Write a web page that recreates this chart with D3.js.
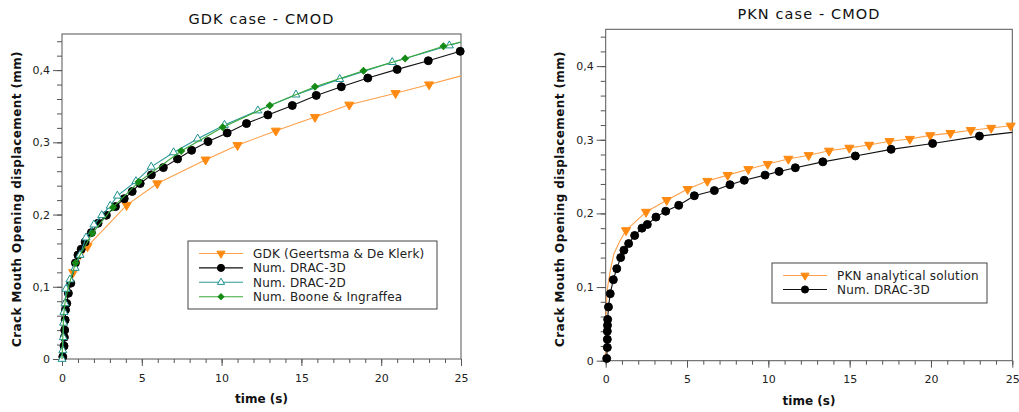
<!DOCTYPE html>
<html lang="en">
<head>
<meta charset="UTF-8">
<title>CMOD comparison</title>
<style>
  body { margin: 0; padding: 0; background: #fff; }
  svg { display: block; font-family: "DejaVu Sans", Verdana, sans-serif; }
</style>
<script src="https://d3js.org/d3.v7.min.js"></script>
</head>
<body>
<svg id="chart" width="1019" height="412"></svg>
<script>
// --- data: [time (s), CMOD (mm)] ---
// GDK case
const gdkMarks = [[0.7,0.12],[1.6,0.156],[4.05,0.213],[5.97,0.243],[9.0,0.276],[11.0,0.296],[13.4,0.316],
  [15.85,0.335],[18.0,0.352],[20.9,0.368],[23.0,0.380]];
const gdkTail = [[25,0.392]];

const drac3dGdkMarks = [[0.05,0.003],[0.13,0.018],[0.15,0.03],[0.17,0.04],[0.2,0.054],[0.22,0.068],[0.3,0.077],
  [0.4,0.091],[0.55,0.105],[0.84,0.133],[1.0,0.144],[1.2,0.152],[1.45,0.162],[1.84,0.175],[2.26,0.188],
  [2.78,0.199],[3.35,0.211],[3.9,0.222],[4.4,0.232],[4.9,0.243],[5.6,0.255],[6.35,0.265],[7.24,0.277],
  [8.12,0.289],[9.15,0.301],[10.35,0.313],[11.56,0.326],[12.9,0.338],[14.43,0.351],[15.93,0.365],
  [17.5,0.377],[19.16,0.389],[21.0,0.401],[22.95,0.413],[24.95,0.426]];

const drac2dMarks = [[0,0],[0.05,0.012],[0.08,0.03],[0.1,0.05],[0.12,0.065],[0.19,0.077],[0.25,0.097],
  [0.5,0.11],[0.82,0.126],[1.13,0.144],[1.51,0.168],[2.0,0.186],[2.49,0.199],[3.02,0.212],[3.47,0.226],
  [4.63,0.246],[5.59,0.266],[6.99,0.286],[8.5,0.305],[10.18,0.324],[12.27,0.344],[14.66,0.366],
  [17.4,0.3875],[20.69,0.411],[24.27,0.434]];
const drac2dTail = [[25,0.439]];

const booneHead = [[0,0],[0.05,0.03],[0.1,0.06],[0.2,0.08],[0.4,0.1]];
const booneMarks = [[0.85,0.133],[1.9,0.174],[3.2,0.21],[4.79,0.245],[7.47,0.288],[10.07,0.321],
  [13.02,0.351],[15.85,0.377],[18.89,0.399],[21.5,0.416],[23.9,0.433]];
const booneTail = [[25,0.439]];

// PKN case
const pknHead = [[0,0],[0.01,0.05],[0.05,0.08],[0.12,0.1],[0.26,0.12],[0.5,0.145],[0.88,0.163]];
const pknMarks = [[1.25,0.177],[2.48,0.202],[3.75,0.218],[5.04,0.233],[6.25,0.244],[7.5,0.252],[8.77,0.26],
  [9.96,0.267],[11.23,0.274],[12.48,0.279],[13.73,0.285],[14.98,0.289],[16.2,0.293],[17.45,0.298],
  [18.7,0.301],[19.95,0.306],[21.2,0.309],[22.45,0.313],[23.7,0.316],[24.9,0.319]];

const drac3dPknMarks = [[0.06,0.003],[0.1,0.018],[0.1,0.029],[0.1,0.04],[0.11,0.048],[0.12,0.056],[0.17,0.073],
  [0.28,0.091],[0.47,0.11],[0.68,0.125],[0.92,0.14],[1.12,0.15],[1.41,0.159],[1.78,0.17],[2.23,0.18],
  [2.56,0.185],[3.09,0.195],[3.69,0.203],[4.49,0.211],[5.45,0.224],[6.68,0.231],[7.64,0.239],[8.52,0.245],
  [9.8,0.252],[10.66,0.257],[11.66,0.262],[13.35,0.27],[15.35,0.278],[17.55,0.287],[20.1,0.295],[22.98,0.305]];
const drac3dPknTail = [[25,0.310]];

const xMajor = [0, 5, 10, 15, 20, 25];
const xMinor = d3.range(0, 26, 1);
const yMajor = [0, 0.1, 0.2, 0.3, 0.4];
const yMinor = d3.range(0, 0.45, 0.02);

const yTitle = "Crack Mouth Opening displacement (mm)";
const xTitle = "time (s)";

// decimal comma like the original
const fr = d3.formatLocale({decimal: ",", thousands: ".", grouping: [3], currency: ["", ""]});
const yFmt = fr.format(".1~f");

const styles = {
  gdk:   {stroke: "#ffa04a", fill: "#ff8a12", edge: "#ff8a12", symbol: d3.symbolTriangle, size: 36, rot: 180},
  drac3: {stroke: "#111", fill: "#000", edge: "#000", symbol: d3.symbolCircle, size: 50, rot: 0},
  drac2: {stroke: "#2a9a9a", fill: "#fff", edge: "#1f9090", symbol: d3.symbolTriangle, size: 28, rot: 0},
  boone: {stroke: "#3aa83a", fill: "#168a16", edge: "#168a16", symbol: d3.symbolSquare, size: 22, rot: 45}
};

const svg = d3.select("#chart");

function drawPanel(p) {
  const x = d3.scaleLinear().domain([0, 25]).range(p.xr);
  const y = d3.scaleLinear().domain([0, 0.45]).range(p.yr);
  const g = svg.append("g");

  // ticks
  const minorX = g.append("g").attr("transform", `translate(0,${p.yr[0]})`)
    .call(d3.axisBottom(x).tickValues(xMinor).tickSize(4).tickFormat(""));
  const majorX = g.append("g").attr("transform", `translate(0,${p.yr[0]})`)
    .call(d3.axisBottom(x).tickValues(xMajor).tickSize(7).tickPadding(8).tickFormat(d3.format("d")));
  const minorY = g.append("g").attr("transform", `translate(${p.xr[0]},0)`)
    .call(d3.axisLeft(y).tickValues(yMinor).tickSize(5).tickFormat(""));
  const majorY = g.append("g").attr("transform", `translate(${p.xr[0]},0)`)
    .call(d3.axisLeft(y).tickValues(yMajor).tickSize(9).tickPadding(3).tickFormat(yFmt));
  [minorX, majorX, minorY, majorY].forEach(a => {
    a.select(".domain").remove();
    a.selectAll("line").attr("stroke", "#555");
    a.selectAll("text").attr("font-size", 11).attr("fill", "#222")
      .attr("font-family", "DejaVu Sans, sans-serif");
  });

  // frame
  g.append("rect")
    .attr("x", p.xr[0]).attr("y", p.yr[1])
    .attr("width", p.xr[1] - p.xr[0]).attr("height", p.yr[0] - p.yr[1])
    .attr("fill", "none").attr("stroke", "#555").attr("stroke-width", 1);

  const line = d3.line().x(d => x(d[0])).y(d => y(d[1]));

  p.series.forEach(s => {
    const st = styles[s.style];
    const pts = (s.head || []).concat(s.marks, s.tail || []);
    g.append("path").datum(pts)
      .attr("d", line).attr("fill", "none")
      .attr("stroke", st.stroke).attr("stroke-width", 1.1);
    g.append("g").selectAll("path").data(s.marks).join("path")
      .attr("d", d3.symbol(st.symbol, st.size))
      .attr("transform", d => `translate(${x(d[0])},${y(d[1])}) rotate(${st.rot})`)
      .attr("fill", st.fill).attr("stroke", st.edge).attr("stroke-width", 1);
  });

  // titles
  const cx = (p.xr[0] + p.xr[1]) / 2;
  svg.append("text").attr("x", cx).attr("y", p.titleY)
    .attr("text-anchor", "middle").attr("font-size", 14.5).attr("letter-spacing", 1.1).attr("fill", "#111")
    .text(p.title);
  svg.append("text").attr("x", cx).attr("y", p.xLabelY)
    .attr("text-anchor", "middle").attr("font-size", 12).attr("font-weight", "bold").attr("fill", "#111")
    .text(xTitle);
  svg.append("text")
    .attr("transform", `translate(${p.yLabelX},199) rotate(-90)`)
    .attr("text-anchor", "middle").attr("font-size", 12).attr("font-weight", "bold")
    .attr("letter-spacing", 0.4).attr("fill", "#111")
    .text(yTitle);

  // legend
  const lg = svg.append("g");
  lg.append("rect").attr("x", p.legend.x).attr("y", p.legend.y)
    .attr("width", p.legend.w).attr("height", p.legend.h)
    .attr("fill", "#fff").attr("stroke", "#444").attr("stroke-width", 1);
  p.series.forEach((s, i) => {
    const st = styles[s.style];
    const ry = p.legend.row0 + i * p.legend.dy;
    const lx = p.legend.x + 11;
    lg.append("line").attr("x1", lx).attr("x2", lx + 44).attr("y1", ry).attr("y2", ry)
      .attr("stroke", st.stroke).attr("stroke-width", 1.1);
    lg.append("path").attr("d", d3.symbol(st.symbol, st.size * 0.8))
      .attr("transform", `translate(${lx + 22},${ry}) rotate(${st.rot})`)
      .attr("fill", st.fill).attr("stroke", st.edge);
    lg.append("text").attr("x", lx + 54).attr("y", ry + 4.5)
      .attr("font-size", 12).attr("letter-spacing", 0.2).attr("fill", "#222").text(s.name);
  });
}

drawPanel({
  xr: [62, 461], yr: [359, 34], title: "GDK case - CMOD", titleY: 24, xLabelY: 403, yLabelX: 21,
  legend: {x: 188, y: 241, w: 249, h: 68, row0: 253.5, dy: 14.4},
  series: [
    {name: "GDK (Geertsma & De Klerk)", style: "gdk", marks: gdkMarks, tail: gdkTail},
    {name: "Num. DRAC-3D", style: "drac3", marks: drac3dGdkMarks},
    {name: "Num. DRAC-2D", style: "drac2", marks: drac2dMarks, tail: drac2dTail},
    {name: "Num. Boone & Ingraffea", style: "boone", head: booneHead, marks: booneMarks, tail: booneTail}
  ]
});

drawPanel({
  xr: [605.7, 1012.3], yr: [360.7, 29.3], title: "PKN case - CMOD", titleY: 19, xLabelY: 405, yLabelX: 564,
  legend: {x: 772, y: 263, w: 215, h: 40, row0: 275.5, dy: 14},
  series: [
    {name: "PKN analytical solution", style: "gdk", head: pknHead, marks: pknMarks},
    {name: "Num. DRAC-3D", style: "drac3", marks: drac3dPknMarks, tail: drac3dPknTail}
  ]
});
</script>
</body>
</html>
